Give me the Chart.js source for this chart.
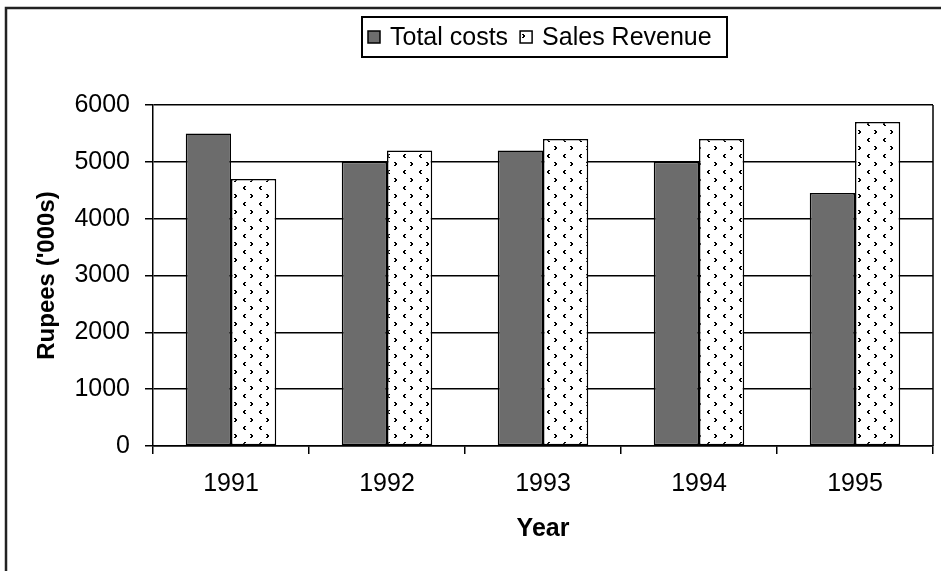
<!DOCTYPE html>
<html>
<head>
<meta charset="utf-8">
<script src="https://cdn.jsdelivr.net/npm/chart.js@4/dist/chart.umd.min.js"></script>
<style>
  body { margin: 0; background: #fff; }
  canvas { display: block; }
</style>
</head>
<body>
<canvas id="costChart" width="941" height="571"></canvas>
<script>
const years = ['1991', '1992', '1993', '1994', '1995'];
const totalCosts = [5500, 5000, 5200, 5000, 4450];
const salesRevenue = [4700, 5200, 5400, 5400, 5700];
const yTicks = [0, 1000, 2000, 3000, 4000, 5000, 6000];

// white tile with little < > marks, like the old excel fill
function makeDots() {
  const c = document.createElement('canvas');
  c.width = 16; c.height = 16;
  const g = c.getContext('2d');
  g.fillStyle = '#fff';
  g.fillRect(0, 0, 16, 16);
  g.fillStyle = '#000';
  // ">"
  g.fillRect(10, 2, 2, 1); g.fillRect(11, 3, 2, 2); g.fillRect(10, 5, 2, 1);
  // "<"
  g.fillRect(4, 10, 2, 1); g.fillRect(3, 11, 2, 2); g.fillRect(4, 13, 2, 1);
  return g.createPattern(c, 'repeat');
}

const ctx = document.getElementById('costChart').getContext('2d');
const dots = makeDots();
const grey = '#6c6c6c';
const fontFam = '"Liberation Sans", Arial, sans-serif';

const frame = {
  id: 'frame',
  beforeDraw(chart) {
    const { ctx } = chart;
    ctx.save();
    ctx.fillStyle = '#fff';
    ctx.fillRect(0, 0, chart.width, chart.height);
    ctx.strokeStyle = '#222';
    ctx.lineWidth = 2.5;
    ctx.beginPath();
    ctx.moveTo(6, chart.height);
    ctx.lineTo(6, 8);
    ctx.lineTo(chart.width, 8);
    ctx.stroke();
    ctx.restore();
  },
  afterDraw(chart) {
    const { ctx, chartArea } = chart;
    ctx.save();
    // right edge of the plot box
    ctx.strokeStyle = '#000';
    ctx.lineWidth = 1.5;
    ctx.beginPath();
    ctx.moveTo(chartArea.right, chartArea.top);
    ctx.lineTo(chartArea.right, chartArea.bottom);
    ctx.stroke();

    // legend box
    ctx.lineWidth = 2;
    ctx.strokeRect(362, 17, 365, 40);
    ctx.font = '25px ' + fontFam;
    ctx.textBaseline = 'middle';
    let x = 368;
    chart.data.datasets.forEach(ds => {
      ctx.fillStyle = ds.backgroundColor;
      ctx.fillRect(x, 31, 12, 12);
      ctx.lineWidth = 1.5;
      ctx.strokeRect(x, 31, 12, 12);
      ctx.fillStyle = '#000';
      ctx.fillText(ds.label, x + 22, 38);
      x += 22 + ctx.measureText(ds.label).width + 12;
    });
    ctx.restore();
  }
};

new Chart(ctx, {
  type: 'bar',
  data: {
    labels: years,
    datasets: [
      {
        label: 'Total costs',
        data: totalCosts,
        backgroundColor: grey,
        borderColor: '#000',
        borderWidth: 1.5,
        borderSkipped: false,
        categoryPercentage: 0.58,
        barPercentage: 1
      },
      {
        label: 'Sales Revenue',
        data: salesRevenue,
        backgroundColor: dots,
        borderColor: '#000',
        borderWidth: 1.5,
        borderSkipped: false,
        categoryPercentage: 0.58,
        barPercentage: 1
      }
    ]
  },
  options: {
    responsive: false,
    animation: false,
    layout: { padding: { top: 105, right: 8, left: 0, bottom: 0 } },
    plugins: {
      legend: { display: false },
      tooltip: { enabled: false }
    },
    scales: {
      x: {
        afterFit: s => { s.height = 125; },
        grid: { drawOnChartArea: false, color: '#000', lineWidth: 1.5, tickLength: 8 },
        border: { color: '#000', width: 1.5 },
        ticks: {
          color: '#000',
          padding: 15,
          font: { family: fontFam, size: 25 }
        },
        title: {
          display: true,
          text: 'Year',
          color: '#000',
          padding: { top: 0, bottom: 27 },
          font: { family: fontFam, size: 25, weight: 'bold' }
        }
      },
      y: {
        min: 0,
        max: 6000,
        afterFit: s => { s.width = 153; },
        afterBuildTicks: s => { s.ticks = yTicks.map(v => ({ value: v })); },
        grid: { color: '#000', lineWidth: 1.5, tickLength: 8 },
        border: { color: '#000', width: 1.5 },
        ticks: {
          color: '#000',
          padding: 15,
          callback: v => String(v),
          font: { family: fontFam, size: 25 }
        },
        title: {
          display: true,
          text: "Rupees ('000s)",
          color: '#000',
          padding: { top: 33, bottom: 0 },
          font: { family: fontFam, size: 24, weight: 'bold' }
        }
      }
    }
  },
  plugins: [frame]
});
</script>
</body>
</html>
